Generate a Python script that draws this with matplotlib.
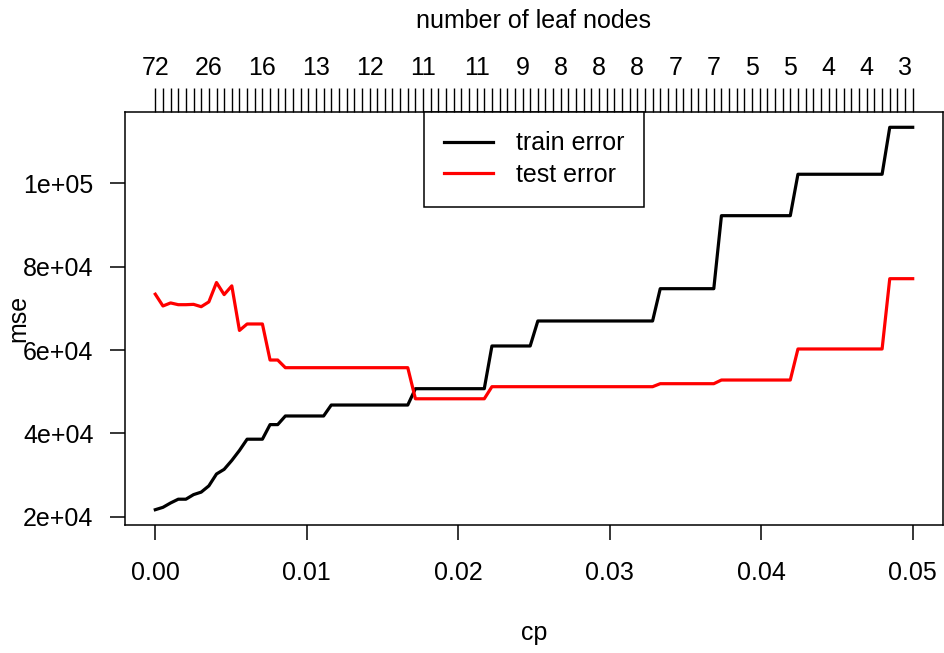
import numpy as np
import matplotlib
matplotlib.use('Agg')
import matplotlib.pyplot as plt

plt.rcParams['font.family'] = ['Liberation Sans', 'DejaVu Sans']
plt.rcParams['font.size'] = 18

# complexity parameter grid (100 points from 0 to 0.05)
cp = np.linspace(0, 0.05, 100)

train_err = [
    21680, 22250, 23300, 24200, 24200, 25300, 25900, 27400, 30250, 31370,
    33500, 35900, 38600, 38600, 38600, 42100, 42100, 44170, 44170, 44170,
    44170, 44170, 44170, 46800, 46800, 46800, 46800, 46800, 46800, 46800,
    46800, 46800, 46800, 46800, 50720, 50720, 50720, 50720, 50720, 50720,
    50720, 50720, 50720, 50720, 60970, 60970, 60970, 60970, 60970, 60970,
    66970, 66970, 66970, 66970, 66970, 66970, 66970, 66970, 66970, 66970,
    66970, 66970, 66970, 66970, 66970, 66970, 74720, 74720, 74720, 74720,
    74720, 74720, 74720, 74720, 92240, 92240, 92240, 92240, 92240, 92240,
    92240, 92240, 92240, 92240, 102180, 102180, 102180, 102180, 102180, 102180,
    102180, 102180, 102180, 102180, 102180, 102180, 113450, 113450, 113450, 113450,
]

test_err = [
    73400, 70570, 71300, 70880, 70880, 70960, 70400, 71550, 76200, 73300,
    75400, 64700, 66250, 66250, 66250, 57600, 57600, 55760, 55760, 55760,
    55760, 55760, 55760, 55760, 55760, 55760, 55760, 55760, 55760, 55760,
    55760, 55760, 55760, 55760, 48300, 48300, 48300, 48300, 48300, 48300,
    48300, 48300, 48300, 48300, 51200, 51200, 51200, 51200, 51200, 51200,
    51200, 51200, 51200, 51200, 51200, 51200, 51200, 51200, 51200, 51200,
    51200, 51200, 51200, 51200, 51200, 51200, 51920, 51920, 51920, 51920,
    51920, 51920, 51920, 51920, 52800, 52800, 52800, 52800, 52800, 52800,
    52800, 52800, 52800, 52800, 60250, 60250, 60250, 60250, 60250, 60250,
    60250, 60250, 60250, 60250, 60250, 60250, 77120, 77120, 77120, 77120,
]

# leaf counts shown on the top axis (index into cp, label)
leaf_idx = [0, 7, 14, 21, 28, 35, 42, 48, 53, 58, 63, 68, 73, 78, 83, 88, 93, 98]
leaf_count = ['72', '26', '16', '13', '12', '11', '11', '9', '8', '8', '8',
              '7', '7', '5', '5', '4', '4', '3']

x_ticks = [0.00, 0.01, 0.02, 0.03, 0.04, 0.05]
x_labels = ['0.00', '0.01', '0.02', '0.03', '0.04', '0.05']
y_ticks = [20000, 40000, 60000, 80000, 100000]
y_labels = ['2e+04', '4e+04', '6e+04', '8e+04', '1e+05']

fig = plt.figure(figsize=(9.44, 6.53), dpi=100)
ax = fig.add_axes([125 / 944, 1 - 525 / 653, 818 / 944, 413 / 653])

ax.plot(cp, train_err, color='black', lw=2.3, label='train error')
ax.plot(cp, test_err, color='red', lw=2.3, label='test error')

# R style 4% padding
xr = cp[-1] - cp[0]
ax.set_xlim(cp[0] - 0.04 * xr, cp[-1] + 0.04 * xr)
ymin = min(min(train_err), min(test_err))
ymax = max(max(train_err), max(test_err))
yr = ymax - ymin
ax.set_ylim(ymin - 0.04 * yr, ymax + 0.04 * yr)

ax.set_xticks(x_ticks, x_labels)
ax.set_yticks(y_ticks, y_labels)
ax.tick_params(axis='x', direction='out', length=10.8, width=1.1, pad=15, labelsize=18)
ax.tick_params(axis='y', direction='out', length=10.8, width=1.1, pad=11.9, labelsize=18)
for s in ax.spines.values():
    s.set_linewidth(1.1)

ax.set_xlabel('cp', va='top')
ax.xaxis.set_label_coords(0.5, (525 - 620.7) / 413)
ax.set_ylabel('mse')
ax.yaxis.set_label_coords((30.25 - 125) / 818, 0.5)

# top axis with number of leaf nodes
ax2 = ax.twiny()
ax2.set_xlim(ax.get_xlim())
top_labels = [''] * len(cp)
for i, lab in zip(leaf_idx, leaf_count):
    top_labels[i] = lab
ax2.set_xticks(cp, top_labels)
ax2.tick_params(axis='x', direction='out', length=17.3, width=1.0, pad=5.5, labelsize=18)
for s in ax2.spines.values():
    s.set_visible(False)
ax2.set_xlabel('number of leaf nodes', va='bottom')
ax2.xaxis.set_label_coords(0.5, (525 - 33.25) / 413)

leg = ax.legend(loc='upper center', bbox_to_anchor=(0.5, 1.0), borderaxespad=0,
                fancybox=False, framealpha=1, edgecolor='black',
                handlelength=1.96, handletextpad=0.92, labelspacing=0.3,
                borderpad=0.78, fontsize=18)
leg.get_frame().set_linewidth(1.1)

fig.savefig('out.png', dpi=100)
